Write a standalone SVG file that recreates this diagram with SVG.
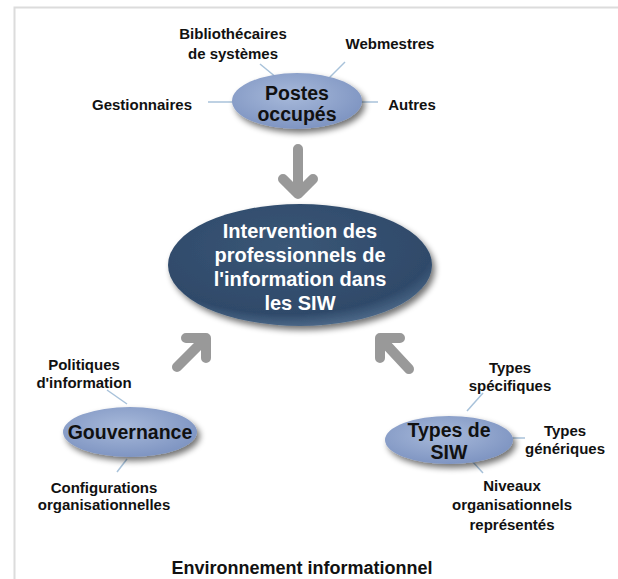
<svg xmlns="http://www.w3.org/2000/svg" width="618" height="579" viewBox="0 0 618 579">
<defs>
<style>
.lbl{font-family:"Liberation Sans",Arial,sans-serif;font-weight:bold;font-size:15px;fill:#111;text-anchor:middle}
.node{font-family:"Liberation Sans",Arial,sans-serif;font-weight:bold;font-size:19.5px;fill:#111;text-anchor:middle}
.main{font-family:"Liberation Sans",Arial,sans-serif;font-weight:bold;font-size:20px;fill:#fff;text-anchor:middle}
.title{font-family:"Liberation Sans",Arial,sans-serif;font-weight:bold;font-size:18px;fill:#111;text-anchor:middle}
.link{stroke:#a8c2da;stroke-width:1.5;fill:none}
.arrow{stroke:#999;stroke-width:10;fill:none;stroke-linecap:round;stroke-linejoin:round}
.small{fill:url(#gSmall);filter:url(#shadow)}
</style>
<radialGradient id="gSmall" cx="45%" cy="40%" r="60%">
<stop offset="0" stop-color="#a7b9da"/>
<stop offset="1" stop-color="#7f95c2"/>
</radialGradient>
<radialGradient id="gMain" cx="45%" cy="35%" r="65%">
<stop offset="0" stop-color="#3a5676"/>
<stop offset="0.85" stop-color="#2f4a6a"/>
<stop offset="1" stop-color="#4a6686"/>
</radialGradient>
<filter id="shadow" x="-20%" y="-30%" width="150%" height="170%">
<feGaussianBlur in="SourceAlpha" stdDeviation="3"/>
<feOffset dx="3" dy="4" result="b"/>
<feComponentTransfer><feFuncA type="linear" slope="0.55"/></feComponentTransfer>
<feMerge><feMergeNode/><feMergeNode in="SourceGraphic"/></feMerge>
</filter>
</defs>
<rect width="618" height="579" fill="#fff"/>
<path d="M14.5,579 L14.5,7.5 L618,7.5" stroke="#dcdcdc" stroke-width="2" fill="none"/>

<g id="connectors">
<line class="link" x1="260" y1="64" x2="277" y2="78"/>
<line class="link" x1="345" y1="62" x2="327" y2="80"/>
<line class="link" x1="208" y1="102" x2="233" y2="102"/>
<line class="link" x1="361" y1="102" x2="378" y2="102"/>
<line class="link" x1="107" y1="390" x2="127" y2="404"/>
<line class="link" x1="127" y1="459" x2="117" y2="472"/>
<line class="link" x1="467" y1="411" x2="483" y2="393"/>
<line class="link" x1="511" y1="438" x2="525" y2="438"/>
<line class="link" x1="472" y1="461" x2="483" y2="473"/>
<path class="arrow" d="M298,149 L298,192 M283,179 L298,194 L313,179"/>
<path class="arrow" d="M177,367 L204,340 M186,338 L206,338 L206,358"/>
<path class="arrow" d="M409,369 L382,340 M380,358 L380,338 L400,338"/>
</g>

<g id="postes">
<ellipse class="small" cx="297" cy="101" rx="65" ry="28"/>
<text class="node" x="297" y="100">Postes</text>
<text class="node" x="297" y="121">occupés</text>
</g>
<g id="lbl-biblio">
<text class="lbl" x="233" y="38.5">Bibliothécaires</text>
<text class="lbl" x="233" y="58.5">de systèmes</text>
</g>
<g id="lbl-webmestres"><text class="lbl" x="390" y="48.5">Webmestres</text></g>
<g id="lbl-gestionnaires"><text class="lbl" x="142" y="109.5">Gestionnaires</text></g>
<g id="lbl-autres"><text class="lbl" x="412" y="109.5">Autres</text></g>

<g id="intervention">
<ellipse cx="300" cy="265" rx="132" ry="61" fill="url(#gMain)" filter="url(#shadow)"/>
<text class="main" x="300" y="238">Intervention des</text>
<text class="main" x="300" y="262">professionnels de</text>
<text class="main" x="300" y="286">l'information dans</text>
<text class="main" x="300" y="310">les SIW</text>
</g>

<g id="gouvernance">
<ellipse class="small" cx="130" cy="432" rx="67" ry="25"/>
<text class="node" x="130" y="439">Gouvernance</text>
</g>
<g id="lbl-politiques">
<text class="lbl" x="84" y="370">Politiques</text>
<text class="lbl" x="84" y="387.5">d'information</text>
</g>
<g id="lbl-configurations">
<text class="lbl" x="104" y="492.5">Configurations</text>
<text class="lbl" x="104" y="509.5">organisationnelles</text>
</g>

<g id="types-siw">
<ellipse class="small" cx="449" cy="440" rx="64" ry="24"/>
<text class="node" x="449" y="437">Types de</text>
<text class="node" x="449" y="459">SIW</text>
</g>
<g id="lbl-specifiques">
<text class="lbl" x="510" y="372.5">Types</text>
<text class="lbl" x="510" y="390.5">spécifiques</text>
</g>
<g id="lbl-generiques">
<text class="lbl" x="565" y="435.5">Types</text>
<text class="lbl" x="565" y="453.5">génériques</text>
</g>
<g id="lbl-niveaux">
<text class="lbl" x="512" y="490.5">Niveaux</text>
<text class="lbl" x="512" y="510">organisationnels</text>
<text class="lbl" x="512" y="529.5">représentés</text>
</g>

<g id="title"><text class="title" x="302" y="573.5">Environnement informationnel</text></g>
</svg>
